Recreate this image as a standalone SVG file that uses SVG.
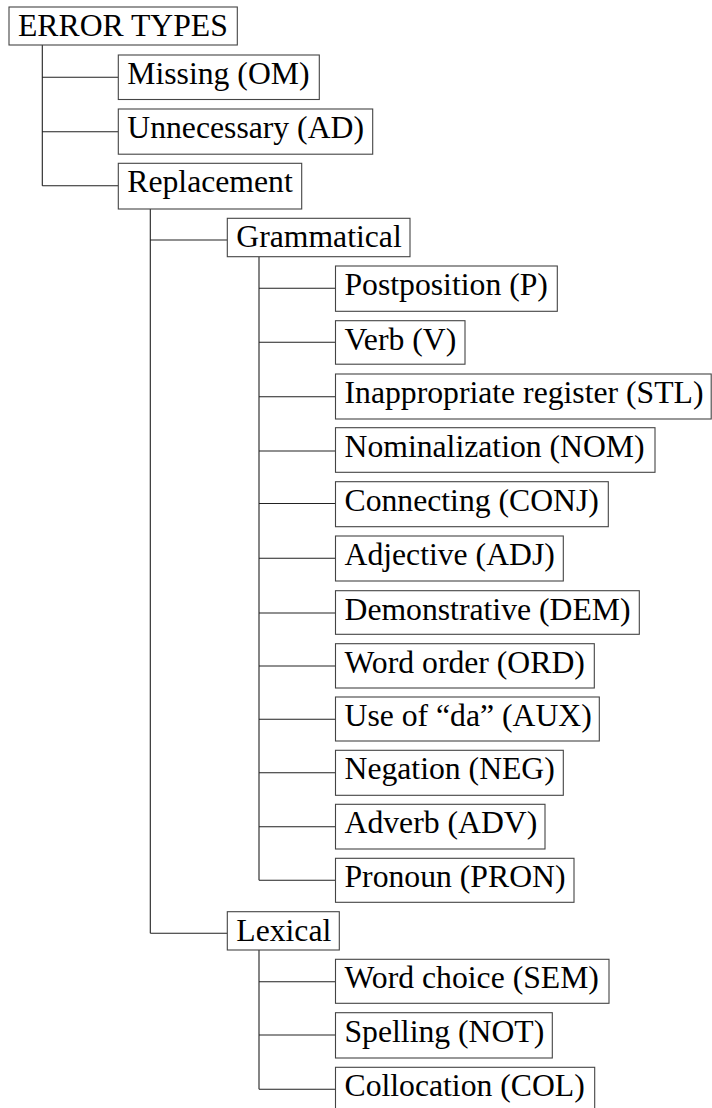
<svg xmlns="http://www.w3.org/2000/svg" width="712" height="1108" viewBox="0 0 712 1108">
<style>
.box{fill:#fff;stroke:#444;stroke-width:1.1}
text{font-family:"Liberation Serif","Times New Roman",serif;font-size:31.7px;fill:#000}
.edge{fill:none;stroke:#222;stroke-width:1.1}
</style>
<rect width="712" height="1108" fill="#fff"/>
<g id="connectors">
<path class="edge" d="M42.3,45 V185.7 M42.3,77.3 H118.3 M42.3,131.7 H118.3 M42.3,185.7 H118.3"/>
<path class="edge" d="M150.3,209 V933.3 M150.3,240 H227.3 M150.3,933.3 H227.3"/>
<path class="edge" d="M259,256.7 V880.3 M259,288.3 H335.5 M259,342.3 H335.5 M259,396.7 H335.5 M259,451 H335.5 M259,503.5 H335.5 M259,558.3 H335.5 M259,613 H335.5 M259,666 H335.5 M259,719.3 H335.5 M259,772.7 H335.5 M259,826.7 H335.5 M259,880.3 H335.5"/>
<path class="edge" d="M259,950 V1089.3 M259,981.7 H335.5 M259,1035 H335.5 M259,1089.3 H335.5"/>
</g>
<g id="root"><rect class="box" x="9" y="7" width="228.3" height="38"/><text x="18" y="36">ERROR TYPES</text></g>
<g id="missing"><rect class="box" x="118.3" y="55" width="201" height="44.5"/><text x="127.3" y="84">Missing (OM)</text></g>
<g id="unnecessary"><rect class="box" x="118.3" y="109" width="254.4" height="45.2"/><text x="127.3" y="138">Unnecessary (AD)</text></g>
<g id="replacement"><rect class="box" x="118.3" y="163.3" width="183.4" height="45.7"/><text x="127.3" y="192.3">Replacement</text></g>
<g id="grammatical"><rect class="box" x="227.3" y="218.3" width="182.7" height="38.4"/><text x="236.3" y="247">Grammatical</text></g>
<g id="postposition"><rect class="box" x="335.5" y="266" width="221.8" height="45.3"/><text x="344.5" y="295">Postposition (P)</text></g>
<g id="verb"><rect class="box" x="335.5" y="320.7" width="129.5" height="43.5"/><text x="344.5" y="349.7">Verb (V)</text></g>
<g id="inappropriate"><rect class="box" x="335.5" y="374" width="375.7" height="45"/><text x="344.5" y="403">Inappropriate register (STL)</text></g>
<g id="nominalization"><rect class="box" x="335.5" y="427.7" width="319.5" height="44.6"/><text x="344.5" y="456.7">Nominalization (NOM)</text></g>
<g id="connecting"><rect class="box" x="335.5" y="481.7" width="272.8" height="45"/><text x="344.5" y="510.7">Connecting (CONJ)</text></g>
<g id="adjective"><rect class="box" x="335.5" y="536" width="227.8" height="45"/><text x="344.5" y="565">Adjective (ADJ)</text></g>
<g id="demonstrative"><rect class="box" x="335.5" y="590.7" width="303.8" height="43.6"/><text x="344.5" y="619.7">Demonstrative (DEM)</text></g>
<g id="wordorder"><rect class="box" x="335.5" y="643.7" width="258.8" height="44.3"/><text x="344.5" y="672.7">Word order (ORD)</text></g>
<g id="useofda"><rect class="box" x="335.5" y="697" width="263.8" height="44"/><text x="344.5" y="726">Use of “da” (AUX)</text></g>
<g id="negation"><rect class="box" x="335.5" y="750.3" width="227.8" height="45"/><text x="344.5" y="779.3">Negation (NEG)</text></g>
<g id="adverb"><rect class="box" x="335.5" y="804.3" width="209.5" height="44.7"/><text x="344.5" y="833.3">Adverb (ADV)</text></g>
<g id="pronoun"><rect class="box" x="335.5" y="858.3" width="238.5" height="44"/><text x="344.5" y="887.3">Pronoun (PRON)</text></g>
<g id="lexical"><rect class="box" x="227.3" y="911.7" width="112" height="38.3"/><text x="236.3" y="940.5">Lexical</text></g>
<g id="wordchoice"><rect class="box" x="335.5" y="959.3" width="273.5" height="44"/><text x="344.5" y="988.3">Word choice (SEM)</text></g>
<g id="spelling"><rect class="box" x="335.5" y="1012.7" width="216.8" height="45.3"/><text x="344.5" y="1041.7">Spelling (NOT)</text></g>
<g id="collocation"><rect class="box" x="335.5" y="1067.3" width="259.2" height="45"/><text x="344.5" y="1096.3">Collocation (COL)</text></g>
</svg>
